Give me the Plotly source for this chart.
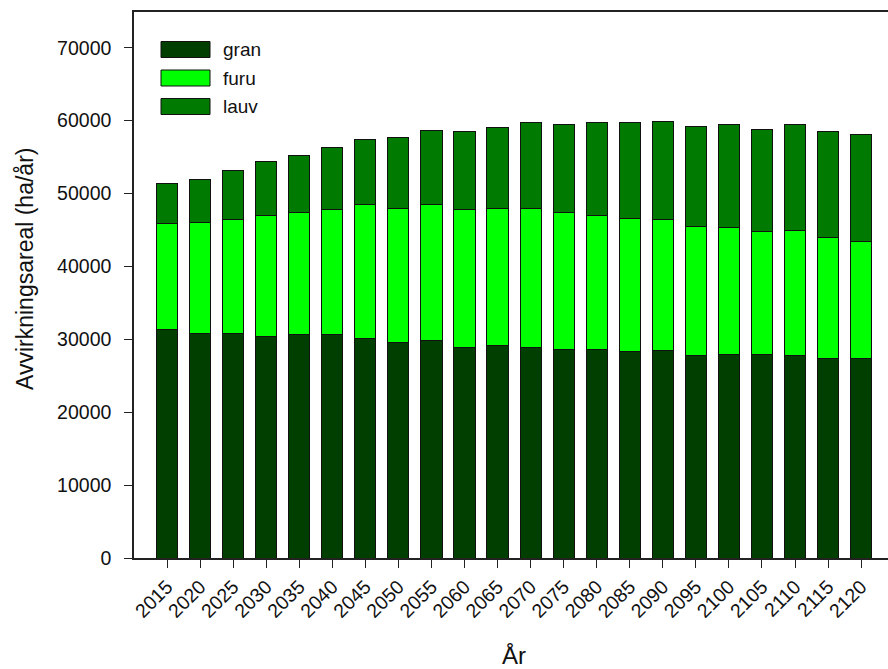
import plotly.graph_objects as go

# Harvested area per period (ha/år), split by tree species
years = [2015, 2020, 2025, 2030, 2035, 2040, 2045, 2050, 2055, 2060, 2065,
         2070, 2075, 2080, 2085, 2090, 2095, 2100, 2105, 2110, 2115, 2120]
gran = [31370, 30820, 30820, 30450, 30610, 30610, 30150, 29520, 29900, 28900, 29180,
        28900, 28580, 28620, 28300, 28400, 27750, 27890, 27850, 27750, 27300, 27430]
furu = [14530, 15180, 15640, 16560, 16850, 17240, 18390, 18440, 18620, 18840, 18770,
        19020, 18750, 18430, 18300, 18100, 17790, 17510, 16960, 17200, 16650, 16050]
lauv = [5440, 5950, 6630, 7350, 7800, 8530, 8840, 9700, 10190, 10830, 11130,
        11840, 12070, 12710, 13210, 13400, 13720, 14130, 14040, 14540, 14580, 14590]

series = [("gran", gran, "#003F00"), ("furu", furu, "#00FF00"), ("lauv", lauv, "#007A00")]

W, H = 888, 669
ML, MR, MT, MB = 134, 0, 12, 111
PW = W - ML - MR
PH = H - MT - MB
FONT = "Liberation Sans, Arial, sans-serif"

fig = go.Figure()
for name, vals, col in series:
    fig.add_trace(go.Bar(
        x=years, y=vals, name=name, width=3.2,
        marker=dict(color=col, line=dict(color="#111111", width=1)),
        showlegend=False,
    ))

def px_x(p):
    return (p - ML) / PW

def px_y(p):
    return (H - MB - p) / PH

# Legend: swatches and labels
legend_rows = [49.5, 78, 106.5]
shapes = []
annotations = []
for (name, _, col), cy in zip(series, legend_rows):
    shapes.append(dict(
        type="rect", xref="paper", yref="paper",
        x0=px_x(161), x1=px_x(210), y0=px_y(cy - 8), y1=px_y(cy + 8),
        fillcolor=col, line=dict(color="#111111", width=1),
    ))
    annotations.append(dict(
        text=name, xref="paper", yref="paper", x=px_x(221), y=px_y(cy),
        xanchor="left", yanchor="middle", showarrow=False,
        font=dict(family=FONT, size=19, color="#111111"),
    ))

# Axis titles
annotations.append(dict(
    text="Avvirkningsareal (ha/år)", xref="paper", yref="paper",
    x=px_x(25), y=px_y(269), textangle=-90, showarrow=False,
    xanchor="center", yanchor="middle",
    font=dict(family=FONT, size=23, color="#111111"),
))
annotations.append(dict(
    text="År", xref="paper", yref="paper",
    x=px_x(514), y=px_y(655), showarrow=False,
    xanchor="center", yanchor="middle",
    font=dict(family=FONT, size=24, color="#111111"),
))

fig.update_layout(
    barmode="stack",
    width=W, height=H,
    margin=dict(l=ML, r=MR, t=MT, b=MB, pad=0),
    paper_bgcolor="white", plot_bgcolor="white",
    font=dict(family=FONT, size=19, color="#111111"),
    shapes=shapes, annotations=annotations,
    xaxis=dict(
        range=[2010, 2010 + PW / 33.05 * 5],
        tickmode="array", tickvals=years, ticktext=[str(y) for y in years],
        tickangle=-45, ticks="outside", ticklen=8, tickwidth=1.3, tickcolor="#222",
        showline=True, linecolor="#222", linewidth=1.5, mirror=True,
        showgrid=False, zeroline=False,
        tickfont=dict(family=FONT, size=19.5, color="#111111"),
    ),
    yaxis=dict(
        range=[0, 74900],
        tickvals=list(range(0, 70001, 10000)), tickformat="d",
        ticks="outside", ticklen=8, tickwidth=1.3, tickcolor="#222",
        ticklabelstandoff=9,
        showline=True, linecolor="#222", linewidth=1.5,
        showgrid=False, zeroline=False,
        tickfont=dict(family=FONT, size=19.5, color="#111111"),
    ),
)

fig.write_html("out.html")
